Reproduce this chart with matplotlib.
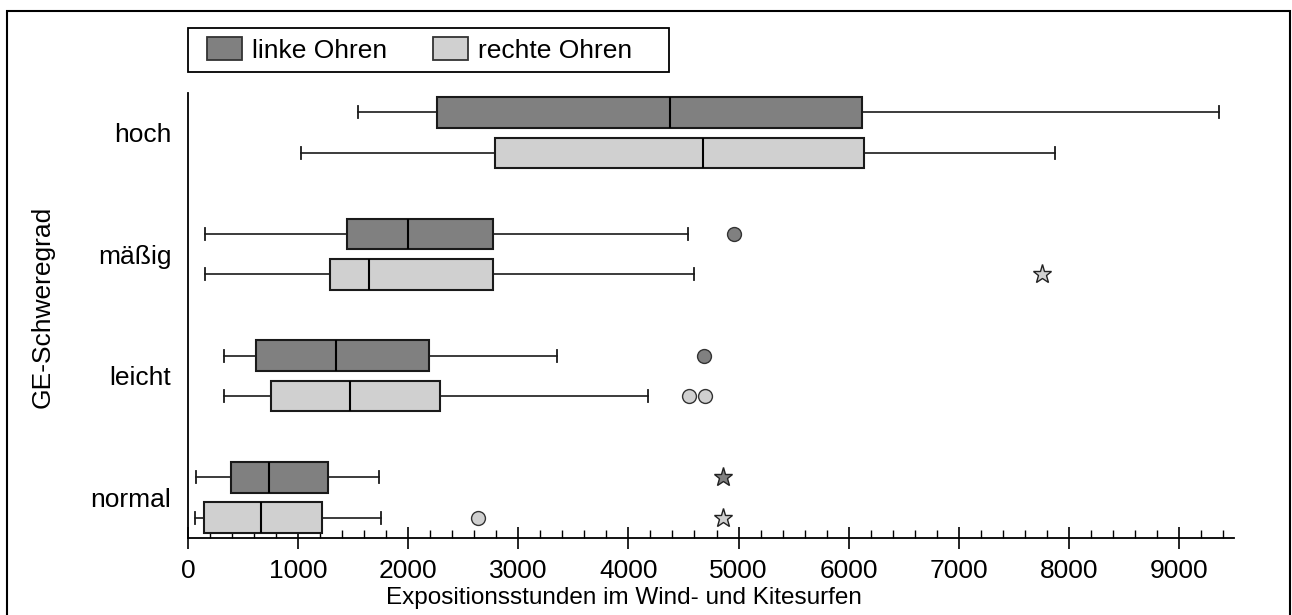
import matplotlib
matplotlib.use("Agg")
import matplotlib.pyplot as plt
from matplotlib.patches import Patch, Rectangle
from matplotlib.ticker import MultipleLocator

plt.rcParams['font.family'] = ['Liberation Sans', 'DejaVu Sans']

categories = ['hoch', 'mäßig', 'leicht', 'normal']
cat_pos = [4, 3, 2, 1]
series = ['linke Ohren', 'rechte Ohren']
colors = ['#808080', '#d0d0d0']

# five-number summaries per category: whislo, q1, med, q3, whishi
left_stats = [
    [1540, 2265, 4375, 6120, 9365],
    [155, 1445, 2000, 2770, 4540],
    [330, 620, 1345, 2185, 3355],
    [72, 392, 736, 1267, 1733],
]
right_stats = [
    [1030, 2785, 4680, 6140, 7872],
    [155, 1290, 1640, 2770, 4595],
    [330, 753, 1473, 2287, 4177],
    [60, 149, 667, 1214, 1753],
]

# outliers (circles) and extremes (stars): (category index, value)
left_outliers = [(1, 4955), (2, 4685)]
right_outliers = [(2, 4546), (2, 4692), (3, 2632)]
left_extremes = [(3, 4860)]
right_extremes = [(1, 7753), (3, 4860)]

offset = 0.166
box_w = 0.25

fig = plt.figure(figsize=(12.92, 6.15), dpi=100)
ax = fig.add_axes([188 / 1292, 1 - 538 / 615, (1234 - 188) / 1292, (538 - 93) / 615])


def make_stats(rows):
    out = []
    for lo, q1, med, q3, hi in rows:
        out.append(dict(whislo=lo, q1=q1, med=med, q3=q3, whishi=hi, fliers=[]))
    return out


edge = '#1a1a1a'
for stats, shift, col in [(left_stats, offset, colors[0]), (right_stats, -offset, colors[1])]:
    pos = [c + shift for c in cat_pos]
    ax.bxp(make_stats(stats), positions=pos, widths=box_w, vert=False,
           patch_artist=True, showfliers=False, capwidths=0.1,
           boxprops=dict(facecolor=col, edgecolor=edge, linewidth=1.5),
           medianprops=dict(color='black', linewidth=1.5),
           whiskerprops=dict(color=edge, linewidth=1.2),
           capprops=dict(color=edge, linewidth=1.3))

for pts, shift, col in [(left_outliers, offset, colors[0]), (right_outliers, -offset, colors[1])]:
    for i, v in pts:
        ax.plot(v, cat_pos[i] + shift, marker='o', ms=10, mfc=col, mec='#333333',
                mew=1.0, ls='none', zorder=4)

for pts, shift, col in [(left_extremes, offset, colors[0]), (right_extremes, -offset, colors[1])]:
    for i, v in pts:
        ax.plot(v, cat_pos[i] + shift, marker='*', ms=14, mfc=col, mec='#222222',
                mew=1.0, ls='none', zorder=4)

ax.set_xlim(0, 9500)
ax.set_ylim(0.667, 4.325)
ax.set_yticks(cat_pos)
ax.set_yticklabels(categories, fontsize=19)
ax.tick_params(axis='y', length=0, pad=12)

ax.xaxis.set_major_locator(MultipleLocator(1000))
ax.xaxis.set_minor_locator(MultipleLocator(200))
ax.tick_params(axis='x', which='major', direction='inout', length=16, width=1.2,
               labelsize=19, pad=7)
ax.tick_params(axis='x', which='minor', direction='in', length=6, width=1.0)

for s in ['top', 'right']:
    ax.spines[s].set_visible(False)
ax.spines['left'].set_linewidth(1.3)
ax.spines['bottom'].set_linewidth(1.3)

fig.text(43 / 1292, 1 - 307 / 615, 'GE-Schweregrad', rotation=90, fontsize=19,
         ha='center', va='center')
fig.text(624 / 1292, 1 - 598 / 615, 'Expositionsstunden im Wind- und Kitesurfen',
         fontsize=17.5, ha='center', va='center')

# legend entries without frame, frame drawn as its own box
handles = [Patch(facecolor=colors[0], edgecolor='#333333', linewidth=1.3),
           Patch(facecolor=colors[1], edgecolor='#333333', linewidth=1.3)]
leg = fig.legend(handles, series, loc='upper left', ncol=2,
                 bbox_to_anchor=(198 / 1292, 1 - 28 / 615), fontsize=19,
                 frameon=False, handlelength=1.3, handleheight=0.95,
                 handletextpad=0.4, columnspacing=1.75, borderpad=0.35,
                 borderaxespad=0)
fig.patches.append(Rectangle((188 / 1292, 1 - 72 / 615), (669 - 188) / 1292, 44 / 615,
                             transform=fig.transFigure, fill=False,
                             edgecolor='black', linewidth=1.3))

fig.patches.append(Rectangle((7 / 1292, -0.01), (1290 - 7) / 1292, 1 - 11 / 615 + 0.01,
                             transform=fig.transFigure, fill=False,
                             edgecolor='black', linewidth=1.5))

fig.savefig('out.png', dpi=100)
